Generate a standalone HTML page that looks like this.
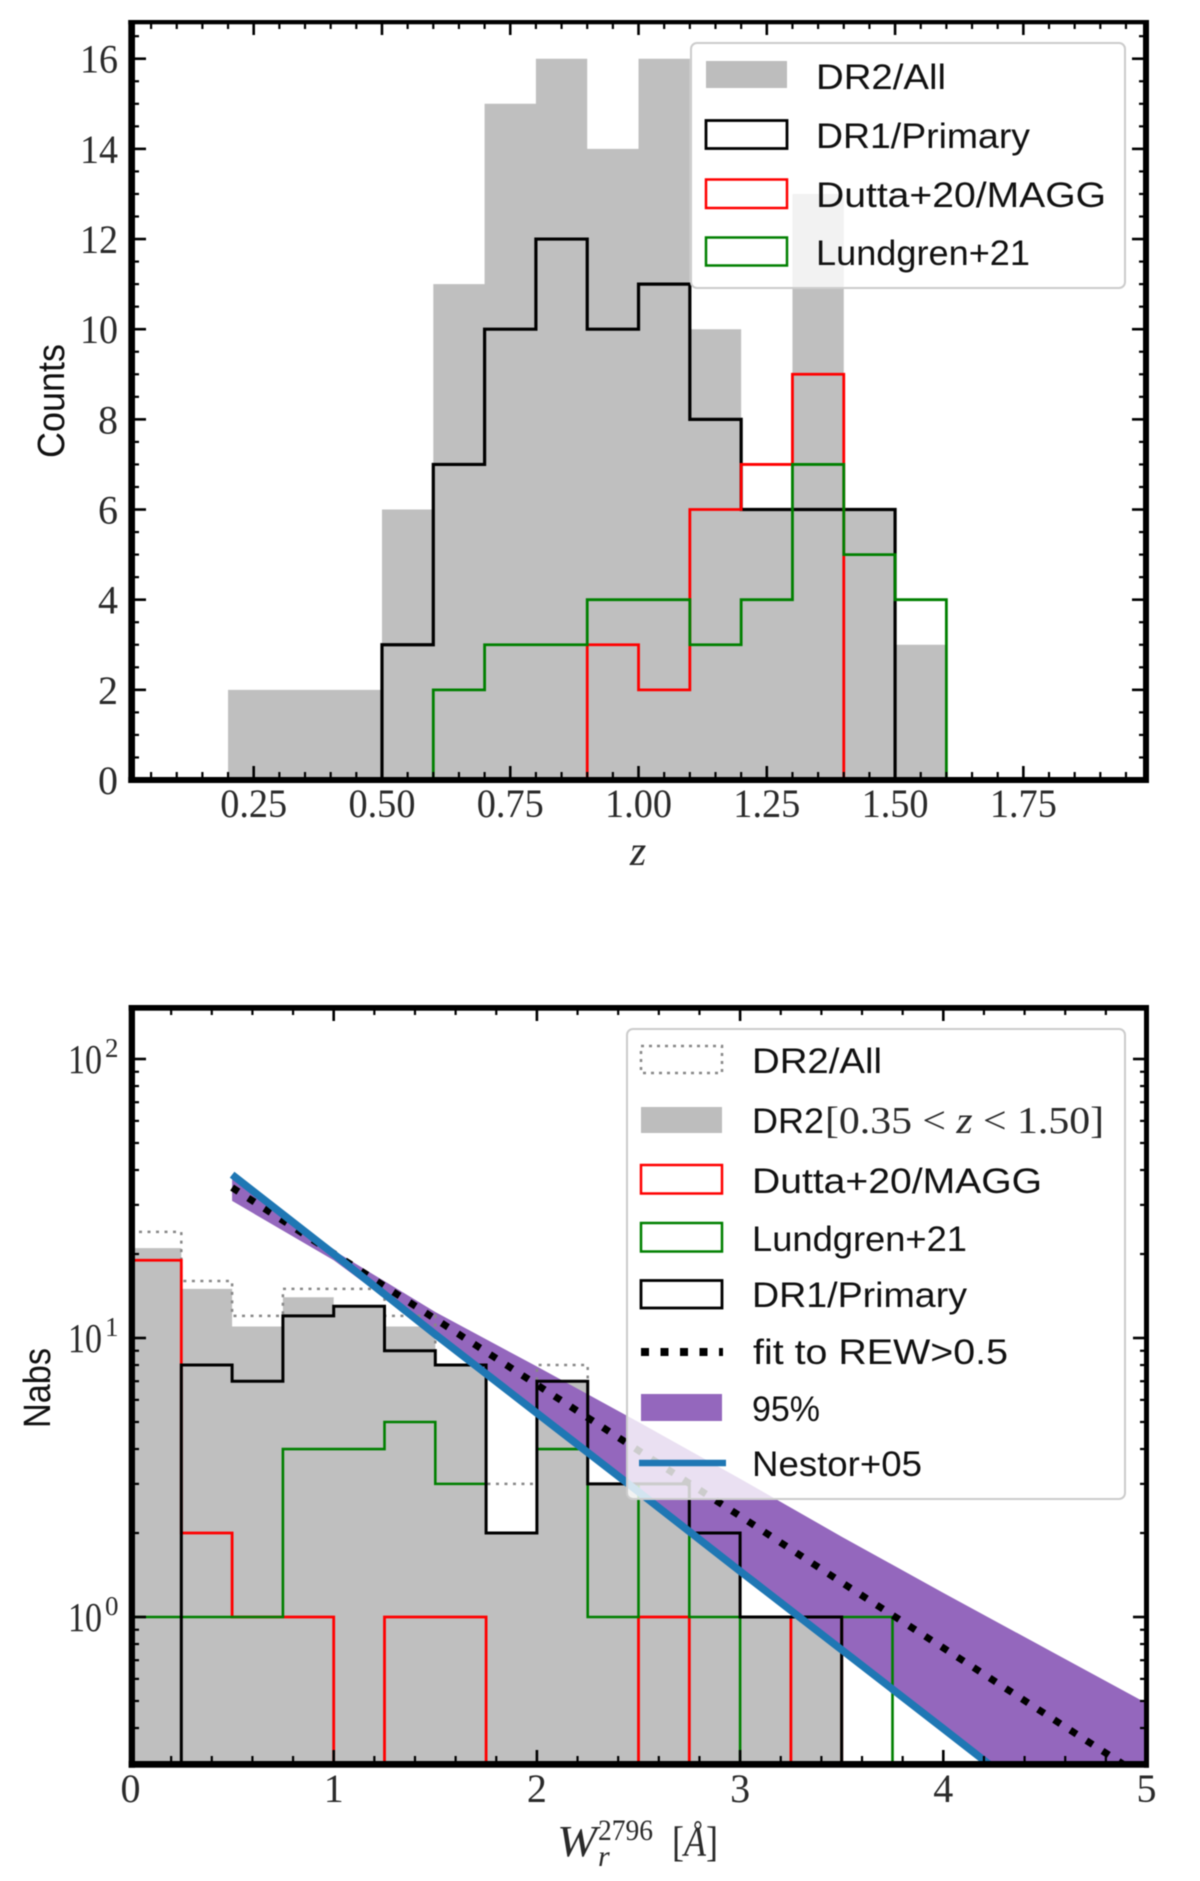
<!DOCTYPE html>
<html lang="en">
<head>
<meta charset="utf-8">
<title>Redshift and equivalent-width histograms</title>
<style>
html,body{margin:0;padding:0;background:#fff;width:1200px;height:1881px;overflow:hidden}
svg{display:block;filter:blur(0.5px)}
.sans{font-family:"Liberation Sans",sans-serif;fill:#111}
.serif{font-family:"Liberation Serif",serif;fill:#2a2a2a}
</style>
</head>
<body>
<svg id="figure" xmlns="http://www.w3.org/2000/svg" width="1200" height="1881" viewBox="0 0 1200 1881">
  <rect x="0" y="0" width="1200" height="1881" fill="#fff"/>
  <defs>
    <clipPath id="clip-top"><rect x="131" y="22" width="1015" height="758"/></clipPath>
    <clipPath id="clip-bottom"><rect x="131" y="1008" width="1015" height="756"/></clipPath>
  </defs>
  <g id="top-plot">
    <g id="top-marks" clip-path="url(#clip-top)"></g>
    <g id="top-axes"></g>
    <text class="serif" x="638" y="865" font-size="42" font-style="italic" text-anchor="middle">z</text>
    <text class="sans" transform="translate(64,458) rotate(-90)" font-size="38" textLength="114" lengthAdjust="spacingAndGlyphs">Counts</text>
    <g>
      <rect x="691" y="43" width="434" height="245" rx="6" fill="#fff" fill-opacity="0.8" stroke="#ccc" stroke-width="2"/>
      <rect x="706" y="61" width="81" height="27" fill="#bdbdbd"/>
      <rect x="706" y="120.500" width="81" height="28" fill="none" stroke="#000" stroke-width="2.800"/>
      <rect x="706" y="179.500" width="81" height="28.500" fill="none" stroke="#f00" stroke-width="2.500"/>
      <rect x="706" y="237.500" width="81" height="28" fill="none" stroke="#008000" stroke-width="2.500"/>
      <text class="sans" x="816" y="89" font-size="35" textLength="130" lengthAdjust="spacingAndGlyphs">DR2/All</text>
      <text class="sans" x="816" y="148" font-size="35" textLength="214" lengthAdjust="spacingAndGlyphs">DR1/Primary</text>
      <text class="sans" x="816" y="207" font-size="35" textLength="290" lengthAdjust="spacingAndGlyphs">Dutta+20/MAGG</text>
      <text class="sans" x="816" y="265" font-size="35" textLength="214" lengthAdjust="spacingAndGlyphs">Lundgren+21</text>
    </g>
  </g>
  <g id="bottom-plot">
    <g id="bottom-marks" clip-path="url(#clip-bottom)"></g>
    <g id="bottom-axes"></g>
    <g>
      <text class="serif" x="557" y="1856" font-size="44" font-style="italic" textLength="40" lengthAdjust="spacingAndGlyphs">W</text>
      <text class="serif" x="598" y="1840" font-size="30" textLength="55" lengthAdjust="spacingAndGlyphs">2796</text>
      <text class="serif" x="598" y="1866" font-size="30" font-style="italic">r</text>
      <text class="serif" x="672" y="1856" font-size="42" textLength="46" lengthAdjust="spacingAndGlyphs">[<tspan font-style="italic">Å</tspan>]</text>
    </g>
    <text class="sans" transform="translate(50,1428) rotate(-90)" font-size="38" textLength="80" lengthAdjust="spacingAndGlyphs">Nabs</text>
    <g>
      <rect x="627" y="1029" width="498" height="470" rx="6" fill="#fff" fill-opacity="0.8" stroke="#ccc" stroke-width="2"/>
      <rect x="641" y="1046" width="81" height="27" fill="none" stroke="#888" stroke-width="2.500" stroke-dasharray="3 5"/>
      <rect x="641" y="1107" width="81" height="26" fill="#bdbdbd"/>
      <rect x="641" y="1165" width="81" height="28.500" fill="none" stroke="#f00" stroke-width="2.500"/>
      <rect x="641" y="1223" width="81" height="28.500" fill="none" stroke="#008000" stroke-width="2.500"/>
      <rect x="641" y="1280.500" width="81" height="27.500" fill="none" stroke="#000" stroke-width="2.800"/>
      <line x1="641" y1="1352" x2="723" y2="1352" stroke="#000" stroke-width="8" stroke-dasharray="8 11.500"/>
      <rect x="641" y="1394" width="81" height="27" fill="#9467bd"/>
      <line x1="639" y1="1463" x2="726" y2="1463" stroke="#1f77b4" stroke-width="6.500"/>
      <text class="sans" x="752" y="1073" font-size="35" textLength="130" lengthAdjust="spacingAndGlyphs">DR2/All</text>
      <text class="sans" x="752" y="1133" font-size="35" textLength="72" lengthAdjust="spacingAndGlyphs">DR2</text>
      <text class="serif" x="825" y="1133" font-size="38" textLength="279" lengthAdjust="spacingAndGlyphs" xml:space="preserve">[0.35 &lt; <tspan font-style="italic">z</tspan> &lt; 1.50]</text>
      <text class="sans" x="752" y="1193" font-size="35" textLength="290" lengthAdjust="spacingAndGlyphs">Dutta+20/MAGG</text>
      <text class="sans" x="752" y="1251" font-size="35" textLength="215" lengthAdjust="spacingAndGlyphs">Lundgren+21</text>
      <text class="sans" x="752" y="1307" font-size="35" textLength="215" lengthAdjust="spacingAndGlyphs">DR1/Primary</text>
      <text class="sans" x="753" y="1364" font-size="35" textLength="255" lengthAdjust="spacingAndGlyphs">fit to REW&gt;0.5</text>
      <text class="sans" x="752" y="1421" font-size="35" textLength="68" lengthAdjust="spacingAndGlyphs">95%</text>
      <text class="sans" x="752" y="1476" font-size="35" textLength="170" lengthAdjust="spacingAndGlyphs">Nestor+05</text>
    </g>
  </g>
</svg>
<script>
// Redshift histogram: counts per 0.1-wide bin, z = 0.0 to 2.0
const zBinWidth = 0.1;
const zDr2All   = [0,0,2,2,2,6,11,15,16,14,16,10,6,13,6,3,0,0,0,0];
const zDr1      = [0,0,0,0,0,3,7,10,12,10,11,8,6,6,6,0,0,0,0,0];
const zDutta    = [0,0,0,0,0,0,0,0,0,3,2,6,7,9,0,0,0,0,0,0];
const zLundgren = [0,0,0,0,0,0,2,3,3,4,4,3,4,7,5,4,0,0,0,0];
const zMajorTicks = [0.25,0.50,0.75,1.00,1.25,1.50,1.75];
const zTickLabels = ["0.25","0.50","0.75","1.00","1.25","1.50","1.75"];
const countTicks = [0,2,4,6,8,10,12,14,16];
const countTickLabels = ["0","2","4","6","8","10","12","14","16"];

// Equivalent-width histogram: absorbers per 0.25-wide bin, W = 0 to 5
const wBinWidth = 0.25;
const wDr2All   = [24,16,12,15,15,12,8,3,8,3,3,2,1,1,0,0,0,0,0,0];
const wDr2Cut   = [21,15,11,14,13,11,8,2,7,3,3,2,1,1,0,0,0,0,0,0];
const wDutta    = [19,2,1,1,0,1,1,0,0,0,1,0,0,1,0,0,0,0,0,0];
const wLundgren = [1,1,1,4,4,5,3,null,4,1,3,1,0,0,1,0,0,0,0,0];
const wDr1      = [0,8,7,12,13,9,8,2,7,3,3,2,1,1,0,0,0,0,0,0];
const wCurveX   = [0.5,1,1.5,2,2.5,3,3.5,4,4.5,5];
const wFit      = [34.6,20.1,11.7,6.8,3.95,2.3,1.33,0.775,0.45,0.262];
const wBandHigh = [37.6,20.6,12.4,7.9,5.0,3.13,1.94,1.22,0.774,0.491];
const wBandLow  = [31,19,10.2,5.3,2.75,1.43,0.75,0.39,0.2,0.11];
const wNestor   = [38.5,20.0,10.3,5.38,2.81,1.46,0.763,0.398,0.207,0.108];
const wMajorTicks = [0,1,2,3,4,5];
const wTickLabels = ["0","1","2","3","4","5"];
const nabsDecades = [0,1,2];

const NS = "http://www.w3.org/2000/svg";

function zToX(z){ return 253.7 + (z - 0.25) * 513.1; }
function countToY(c){ return 780 - c * 45.08; }
function wToX(w){ return 130.5 + w * 203.2; }
function nabsToY(n){ return n > 0 ? 1617 - 279 * Math.log10(n) : 1790; }

function mk(parent, tag, attrs){
  const el = document.createElementNS(NS, tag);
  for (const k in attrs) el.setAttribute(k, attrs[k]);
  parent.appendChild(el);
  return el;
}

function stepPath(values, binWidth, xFn, yFn, closeBase){
  let d = "";
  let open = false;
  values.forEach(function(v, i){
    if (v === null) { open = false; return; }
    const x0 = xFn(i * binWidth), x1 = xFn((i + 1) * binWidth), y = yFn(v);
    d += (open ? "L" : "M") + x0.toFixed(2) + " " + y.toFixed(2) + "L" + x1.toFixed(2) + " " + y.toFixed(2);
    open = true;
  });
  if (closeBase !== undefined) {
    d += "L" + xFn(values.length * binWidth).toFixed(2) + " " + closeBase + "L" + xFn(0).toFixed(2) + " " + closeBase + "Z";
  }
  return d;
}

function curvePath(xs, ys, xFn, yFn){
  return xs.map(function(x, i){
    return (i ? "L" : "M") + xFn(x).toFixed(2) + " " + yFn(ys[i]).toFixed(2);
  }).join("");
}

const topMarks = document.getElementById("top-marks");
const topFill = mk(topMarks, "path", {d: stepPath(zDr2All, zBinWidth, zToX, countToY, 790), fill: "#bfbfbf"});


const topDr1 = mk(topMarks, "path", {d: stepPath(zDr1, zBinWidth, zToX, countToY), fill: "none", stroke: "#000", "stroke-width": 3.2});


const topDutta = mk(topMarks, "path", {d: stepPath(zDutta, zBinWidth, zToX, countToY), fill: "none", stroke: "#f00", "stroke-width": 2.8});


const topLund = mk(topMarks, "path", {d: stepPath(zLundgren, zBinWidth, zToX, countToY), fill: "none", stroke: "#008000", "stroke-width": 2.8});



const botMarks = document.getElementById("bottom-marks");
const botCut = mk(botMarks, "path", {d: stepPath(wDr2Cut, wBinWidth, wToX, nabsToY, 1790), fill: "#bfbfbf"});


const bandD = curvePath(wCurveX, wBandHigh, wToX, nabsToY) +
  curvePath(wCurveX.slice().reverse(), wBandLow.slice().reverse(), wToX, nabsToY).replace("M", "L") + "Z";
const band = mk(botMarks, "path", {d: bandD, fill: "#9467bd"});


const botAll = mk(botMarks, "path", {d: stepPath(wDr2All, wBinWidth, wToX, nabsToY), fill: "none", stroke: "#888", "stroke-width": 2.5, "stroke-dasharray": "3 5.5"});


const botDutta = mk(botMarks, "path", {d: stepPath(wDutta, wBinWidth, wToX, nabsToY), fill: "none", stroke: "#f00", "stroke-width": 2.8});


const botLund = mk(botMarks, "path", {d: stepPath(wLundgren, wBinWidth, wToX, nabsToY), fill: "none", stroke: "#008000", "stroke-width": 2.6});


const botDr1 = mk(botMarks, "path", {d: stepPath(wDr1, wBinWidth, wToX, nabsToY), fill: "none", stroke: "#000", "stroke-width": 3});


const fitLine = mk(botMarks, "path", {d: curvePath(wCurveX, wFit, wToX, nabsToY), fill: "none", stroke: "#000", "stroke-width": 7, "stroke-dasharray": "7.500 11.700"});


const nestor = mk(botMarks, "path", {d: curvePath(wCurveX, wNestor, wToX, nabsToY), fill: "none", stroke: "#1f77b4", "stroke-width": 7.5});



function tickLine(g, x1, y1, x2, y2, w){
  const t = mk(g, "line", {x1: x1, y1: y1, x2: x2, y2: y2, stroke: "#000", "stroke-width": w});
  
  
}

function spine(g, x, y, w, h){
  const s = mk(g, "rect", {x: x, y: y, width: w, height: h, fill: "#000"});
  
  
}

function label(g, x, y, text, size, anchor, len){
  const t = mk(g, "text", {x: x, y: y, "font-size": size, "text-anchor": anchor, "class": "serif"});
  t.textContent = text;
  if (len) { t.setAttribute("textLength", len); t.setAttribute("lengthAdjust", "spacingAndGlyphs"); }
  
  
  return t;
}

// top axes
const topAxes = document.getElementById("top-axes");
for (let i = 1; i < 40; i++) {
  const z = i * 0.05;
  if (i % 5 === 0) continue;
  tickLine(topAxes, zToX(z), 24, zToX(z), 29, 2.2);
  tickLine(topAxes, zToX(z), 777, zToX(z), 772, 2.2);
}
zMajorTicks.forEach(function(z, i){
  tickLine(topAxes, zToX(z), 24, zToX(z), 35, 2.6);
  tickLine(topAxes, zToX(z), 777, zToX(z), 766, 2.6);
  label(topAxes, zToX(z), 817, zTickLabels[i], 40, "middle", 67);
});
for (let c = 0.5; c < 16.8; c += 0.5) {
  if (c % 2 === 0) continue;
  tickLine(topAxes, 135, countToY(c), 139, countToY(c), 2.2);
  tickLine(topAxes, 1143, countToY(c), 1139, countToY(c), 2.2);
}
countTicks.forEach(function(c, i){
  tickLine(topAxes, 135, countToY(c), 146, countToY(c), 2.6);
  tickLine(topAxes, 1143, countToY(c), 1132, countToY(c), 2.6);
  label(topAxes, 118, countToY(c) + 14, countTickLabels[i], 40, "end", c >= 10 ? 38 : 0);
});
spine(topAxes, 128.3, 20, 6.7, 763);
spine(topAxes, 1143, 20, 6, 763);
spine(topAxes, 128.3, 20, 1020.7, 4.3);
spine(topAxes, 128.3, 777, 1020.7, 6);

// bottom axes
const botAxes = document.getElementById("bottom-axes");
for (let i = 1; i < 25; i++) {
  const w = i * 0.2;
  if (i % 5 === 0) continue;
  tickLine(botAxes, wToX(w), 1010, wToX(w), 1015, 2.2);
  tickLine(botAxes, wToX(w), 1761, wToX(w), 1756, 2.2);
}
wMajorTicks.forEach(function(w, i){
  tickLine(botAxes, wToX(w), 1010, wToX(w), 1021, 2.6);
  tickLine(botAxes, wToX(w), 1761, wToX(w), 1750, 2.6);
  label(botAxes, wToX(w), 1802, wTickLabels[i], 40, "middle");
});
[-1, 0, 1, 2].forEach(function(dec){
  for (let m = 2; m < 10; m++) {
    const v = m * Math.pow(10, dec);
    if (v < 0.3 || v > 150) continue;
    tickLine(botAxes, 135, nabsToY(v), 139, nabsToY(v), 2.2);
    tickLine(botAxes, 1144, nabsToY(v), 1140, nabsToY(v), 2.2);
  }
});
nabsDecades.forEach(function(dec){
  const y = nabsToY(Math.pow(10, dec));
  tickLine(botAxes, 135, y, 146, y, 2.6);
  tickLine(botAxes, 1144, y, 1133, y, 2.6);
  label(botAxes, 68, y + 14, "10", 41, "start", 34);
  label(botAxes, 105, y - 2, String(dec), 27, "start");
});
spine(botAxes, 128.7, 1005, 6.3, 762.7);
spine(botAxes, 1144, 1005, 5, 762.7);
spine(botAxes, 128.7, 1005, 1020.3, 5.7);
spine(botAxes, 128.7, 1761, 1020.3, 6.7);
</script>
</body>
</html>
